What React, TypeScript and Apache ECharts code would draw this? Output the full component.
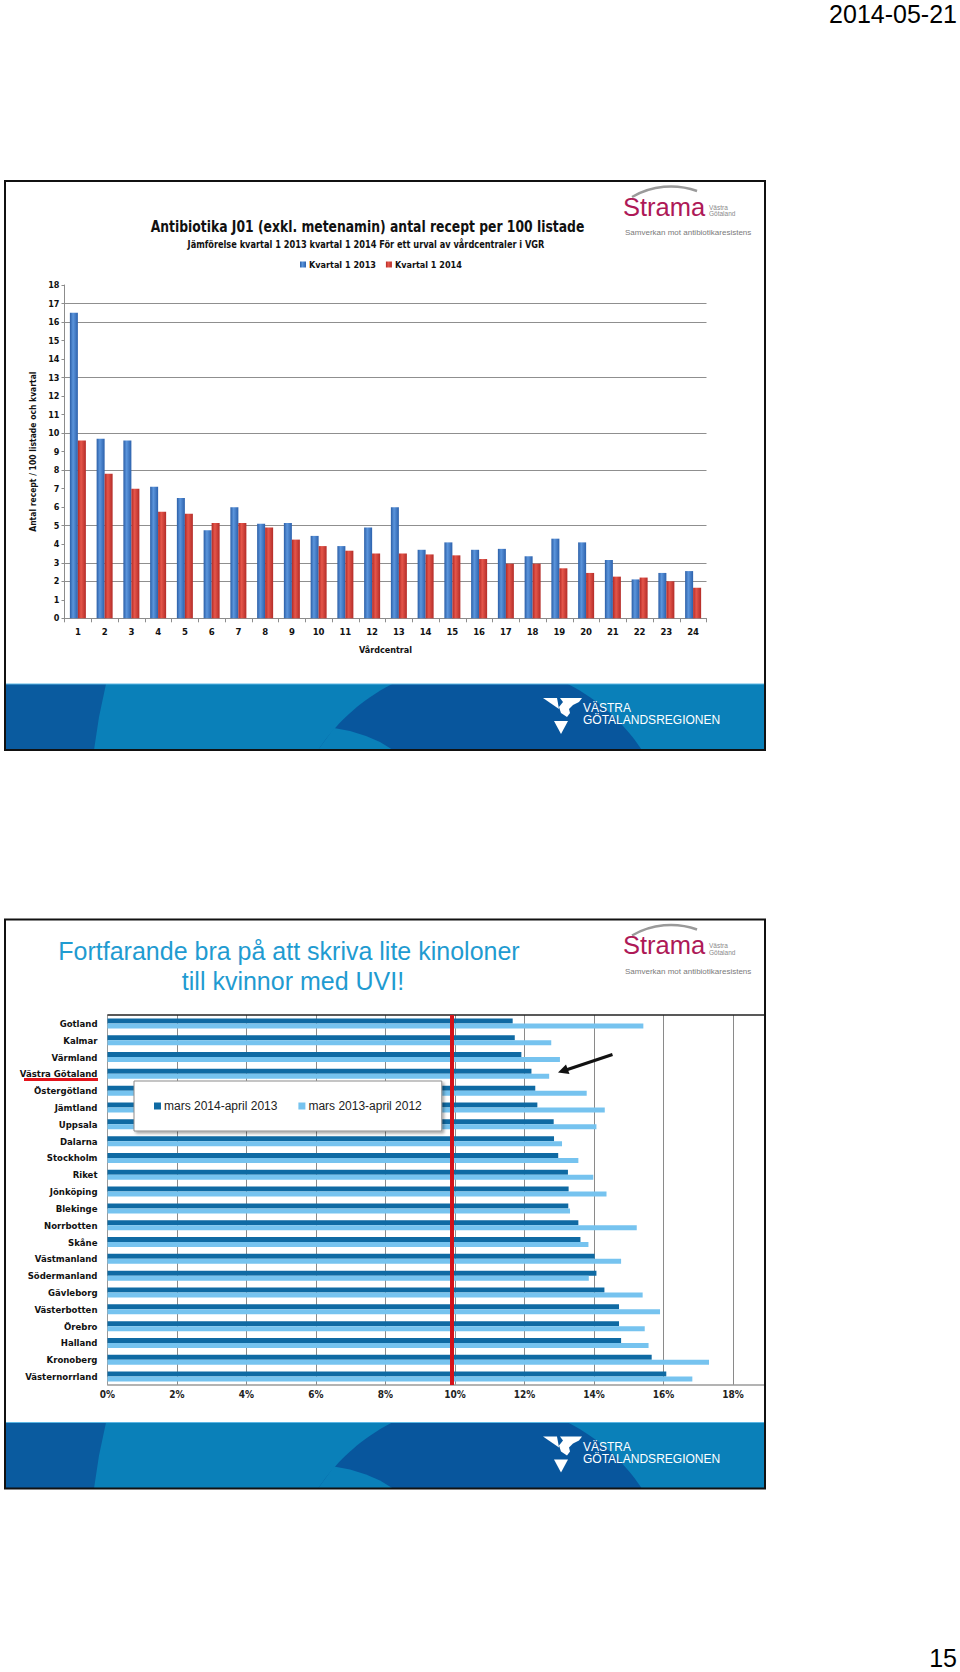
import React, { useEffect, useRef } from "react";
import * as echarts from "echarts";

// ---------- Slide 1 data ----------
const centres = ["1","2","3","4","5","6","7","8","9","10","11","12","13","14","15","16","17","18","19","20","21","22","23","24"];
const kvartal2013 = [16.5, 9.7, 9.6, 7.1, 6.5, 4.75, 6.0, 5.1, 5.15, 4.45, 3.9, 4.9, 6.0, 3.7, 4.1, 3.7, 3.75, 3.35, 4.3, 4.1, 3.15, 2.1, 2.45, 2.55];
const kvartal2014 = [9.6, 7.8, 7.0, 5.75, 5.65, 5.15, 5.15, 4.9, 4.25, 3.9, 3.65, 3.5, 3.5, 3.45, 3.4, 3.2, 2.95, 2.95, 2.7, 2.45, 2.25, 2.2, 2.0, 1.65];
const visibleGridValues = [2, 3, 5, 8, 10, 13, 16, 17];

// ---------- Slide 2 data ----------
const regions = ["Gotland","Kalmar","Värmland","Västra Götaland","Östergötland","Jämtland","Uppsala","Dalarna","Stockholm","Riket","Jönköping","Blekinge","Norrbotten","Skåne","Västmanland","Södermanland","Gävleborg","Västerbotten","Örebro","Halland","Kronoberg","Västernorrland"];
const period2014 = [11.66, 11.72, 11.91, 12.2, 12.31, 12.37, 12.84, 12.85, 12.97, 13.25, 13.27, 13.26, 13.55, 13.61, 14.02, 14.07, 14.3, 14.72, 14.72, 14.78, 15.66, 16.08];
const period2013 = [15.42, 12.77, 13.02, 12.71, 13.79, 14.31, 14.07, 13.08, 13.55, 13.98, 14.36, 13.31, 15.23, 13.84, 14.78, 13.85, 15.4, 15.9, 15.46, 15.57, 17.31, 16.83];
const referenceValue = 9.9;

const NARROW = "'Liberation Sans Narrow', 'DejaVu Sans Condensed', 'Liberation Sans', sans-serif";
const SANS = "'Liberation Sans', Arial, sans-serif";

function circleStrip(cx: number, cy: number, r: number, y0: number, y1: number, n = 20) {
  const left: number[][] = [];
  const right: number[][] = [];
  for (let i = 0; i <= n; i++) {
    const y = y0 + ((y1 - y0) * i) / n;
    const dx = Math.sqrt(Math.max(0, r * r - (y - cy) * (y - cy)));
    left.push([cx - dx, y]);
    right.push([cx + dx, y]);
  }
  return left.concat(right.reverse());
}

function slideDecor(T: number): any[] {
  const els: any[] = [];
  // footer band
  els.push({ type: "rect", shape: { x: 5, y: T + 503, width: 760, height: 66 }, style: { fill: "#0a80b9" }, z: 1 });
  els.push({ type: "polygon", shape: { points: [[5, T + 503], [106, T + 503], [99, T + 536], [94, T + 569], [5, T + 569]] }, style: { fill: "#0a5b9f" }, z: 1 });
  els.push({ type: "polygon", shape: { points: circleStrip(480, T + 676, 194, T + 503, T + 569) }, style: { fill: "#08569d" }, z: 1 });
  els.push({ type: "polygon", shape: { points: [[334, T + 547], [350, T + 550], [366, T + 555], [380, T + 561], [393, T + 569], [318, T + 569]] }, style: { fill: "#0a80b9" }, z: 1 });
  els.push({ type: "line", shape: { x1: 5, y1: T + 503, x2: 765, y2: T + 503 }, style: { stroke: "#5ab6e4", lineWidth: 1 }, z: 1 });
  // VGR logo
  els.push({ type: "polygon", shape: { points: [[543, T + 517], [557, T + 517], [559, T + 528]] }, style: { fill: "#fff" }, z: 2 });
  els.push({ type: "polygon", shape: { points: [[560, T + 517], [582, T + 517], [579, T + 521], [573, T + 524], [569, T + 528], [570, T + 532], [567, T + 536], [561, T + 532], [559, T + 526], [563, T + 521]] }, style: { fill: "#fff" }, z: 2 });
  els.push({ type: "polygon", shape: { points: [[554, T + 540], [568, T + 540], [561, T + 553]] }, style: { fill: "#fff" }, z: 2 });
  els.push({ type: "text", x: 583, y: T + 527, style: { text: "VÄSTRA", fill: "#fff", fontSize: 12, fontFamily: SANS, textAlign: "left", textVerticalAlign: "middle" }, z: 2 });
  els.push({ type: "text", x: 583, y: T + 539, style: { text: "GÖTALANDSREGIONEN", fill: "#fff", fontSize: 12, fontFamily: SANS, textAlign: "left", textVerticalAlign: "middle" }, z: 2 });
  // Strama logo
  els.push({ type: "arc", shape: { cx: 670.95, cy: T + 82.85, r: 77.4, startAngle: -2.098, endAngle: -1.227, clockwise: true }, style: { stroke: "#9a9a9a", lineWidth: 2.5, fill: "none" }, z: 2 });
  els.push({ type: "text", x: 623, y: T + 25.5, style: { text: "Strama", fill: "#ae1957", fontSize: 25.5, fontFamily: SANS, textAlign: "left", textVerticalAlign: "middle" }, z: 2 });
  els.push({ type: "text", x: 709, y: T + 26, style: { text: "Västra", fill: "#8a8a8a", fontSize: 6.5, fontFamily: SANS, textAlign: "left", textVerticalAlign: "middle" }, z: 2 });
  els.push({ type: "text", x: 709, y: T + 32.5, style: { text: "Götaland", fill: "#8a8a8a", fontSize: 6.5, fontFamily: SANS, textAlign: "left", textVerticalAlign: "middle" }, z: 2 });
  els.push({ type: "text", x: 625, y: T + 51.5, style: { text: "Samverkan mot antibiotikaresistens", fill: "#7a7a7a", fontSize: 8, fontFamily: SANS, textAlign: "left", textVerticalAlign: "middle" }, z: 2 });
  // frame
  els.push({ type: "rect", shape: { x: 5, y: T, width: 760, height: 569 }, style: { fill: "none", stroke: "#111", lineWidth: 2 }, z: 50 });
  return els;
}

function buildOption() {
  const blueGrad = new echarts.graphic.LinearGradient(0, 0, 1, 0, [
    { offset: 0, color: "#2b5ea6" },
    { offset: 0.4, color: "#5b95dc" },
    { offset: 1, color: "#2c61ac" },
  ]);
  const redGrad = new echarts.graphic.LinearGradient(0, 0, 1, 0, [
    { offset: 0, color: "#b32a26" },
    { offset: 0.4, color: "#e5564a" },
    { offset: 1, color: "#b42c28" },
  ]);
  const s1Label = { color: "#111", fontWeight: "bold", fontFamily: NARROW };

  const graphics: any[] = [];
  graphics.push(...slideDecor(181));
  graphics.push(...slideDecor(919.5));
  // Slide 1 titles
  graphics.push({ type: "text", x: 367.5, y: 227, scaleX: 0.86, style: { text: "Antibiotika J01 (exkl. metenamin) antal recept per 100 listade", fill: "#111", fontSize: 16, fontWeight: "bold", fontFamily: NARROW, textAlign: "center", textVerticalAlign: "middle" }, z: 3 });
  graphics.push({ type: "text", x: 366, y: 244, scaleX: 0.87, style: { text: "Jämförelse kvartal 1 2013 kvartal 1 2014 För ett urval av vårdcentraler i VGR", fill: "#111", fontSize: 10.5, fontWeight: "bold", fontFamily: NARROW, textAlign: "center", textVerticalAlign: "middle" }, z: 3 });
  // Slide 2 title
  graphics.push({ type: "text", x: 289, y: 951, style: { text: "Fortfarande bra på att skriva lite kinoloner", fill: "#1f9bd1", fontSize: 25, fontFamily: SANS, textAlign: "center", textVerticalAlign: "middle" }, z: 3 });
  graphics.push({ type: "text", x: 293, y: 981, style: { text: "till kvinnor med UVI!", fill: "#1f9bd1", fontSize: 25, fontFamily: SANS, textAlign: "center", textVerticalAlign: "middle" }, z: 3 });
  // Slide 2 plot borders
  graphics.push({ type: "line", shape: { x1: 107.5, y1: 1015, x2: 765, y2: 1015 }, style: { stroke: "#222", lineWidth: 1.5 }, z: 3 });
  graphics.push({ type: "line", shape: { x1: 107.5, y1: 1385, x2: 765, y2: 1385 }, style: { stroke: "#9a9a9a", lineWidth: 1.5 }, z: 3 });
  // underline & arrow
  graphics.push({ type: "line", shape: { x1: 24, y1: 1079.5, x2: 98, y2: 1079.5 }, style: { stroke: "#e4141b", lineWidth: 3 }, z: 3 });
  graphics.push({ type: "line", shape: { x1: 612.5, y1: 1054.5, x2: 566, y2: 1070 }, style: { stroke: "#111", lineWidth: 3 }, z: 30 });
  graphics.push({ type: "polygon", shape: { points: [[558, 1072.5], [569.5, 1074], [566, 1064.5]] }, style: { fill: "#111" }, z: 30 });
  // page date & number
  graphics.push({ type: "text", x: 957, y: 14, style: { text: "2014-05-21", fill: "#000", fontSize: 25, fontFamily: SANS, textAlign: "right", textVerticalAlign: "middle" }, z: 3 });
  graphics.push({ type: "text", x: 957, y: 1657.5, style: { text: "15", fill: "#000", fontSize: 25, fontFamily: SANS, textAlign: "right", textVerticalAlign: "middle" }, z: 3 });

  return {
    animation: false,
    backgroundColor: "#ffffff",
    grid: [
      { left: 64.5, top: 285, width: 642, height: 333.3 },
      { left: 107.5, top: 1015, width: 625.5, height: 370 },
    ],
    legend: [
      {
        data: ["Kvartal 1 2013", "Kvartal 1 2014"],
        left: 300, top: 260, itemWidth: 6, itemHeight: 6, itemGap: 10, icon: "rect", padding: 0,
        textStyle: { fontSize: 9, ...s1Label, padding: [0, 0, 0, -2] },
      },
      {
        data: ["mars 2014-april 2013", "mars 2013-april 2012"],
        left: 134, top: 1081, padding: [19, 20, 19, 20], itemGap: 21, itemWidth: 7, itemHeight: 7, icon: "rect",
        backgroundColor: "#ffffff", borderColor: "#8c8c8c", borderWidth: 1,
        shadowColor: "rgba(0,0,0,0.35)", shadowBlur: 3, shadowOffsetX: 2, shadowOffsetY: 2,
        textStyle: { fontSize: 12, fontFamily: SANS, color: "#222", padding: [0, 0, 0, -2] },
        z: 10,
      },
    ],
    xAxis: [
      {
        gridIndex: 0, type: "category", data: centres, boundaryGap: true,
        axisLine: { lineStyle: { color: "#8c8c8c" } },
        axisTick: { show: true, length: 4, lineStyle: { color: "#8c8c8c" } },
        axisLabel: { ...s1Label, fontSize: 9.5, margin: 8 },
        name: "Vårdcentral", nameLocation: "middle", nameGap: 27,
        nameTextStyle: { ...s1Label, fontSize: 9 },
      },
      {
        gridIndex: 1, type: "value", min: 0, max: 18, interval: 2,
        axisLine: { show: false }, axisTick: { show: false },
        axisLabel: { formatter: "{value}%", color: "#222", fontWeight: "bold", fontSize: 10, fontFamily: NARROW, margin: 4 },
        splitLine: { show: true, lineStyle: { color: "#8a8a8a", width: 1 } },
      },
    ],
    yAxis: [
      {
        gridIndex: 0, type: "value", min: 0, max: 18, interval: 1,
        splitLine: { show: false },
        axisLine: { show: true, lineStyle: { color: "#8c8c8c" } },
        axisTick: { show: true, length: 3, lineStyle: { color: "#8c8c8c" } },
        axisLabel: { ...s1Label, fontSize: 9, margin: 5 },
        name: "Antal recept / 100 listade och kvartal", nameLocation: "middle", nameGap: 24, nameRotate: 90,
        nameTextStyle: { ...s1Label, fontSize: 8.5 },
      },
      {
        gridIndex: 1, type: "category", data: regions, inverse: true,
        axisLine: { show: true, lineStyle: { color: "#9a9a9a" } },
        axisTick: { show: false },
        axisLabel: { color: "#111", fontWeight: "bold", fontSize: 9.5, fontFamily: NARROW, margin: 10 },
        splitLine: { show: false },
      },
    ],
    series: [
      {
        name: "Kvartal 1 2013", type: "bar", xAxisIndex: 0, yAxisIndex: 0, data: kvartal2013,
        barWidth: 8, barGap: "0%", itemStyle: { color: blueGrad }, z: 3,
        markLine: {
          silent: true, symbol: "none", z: 1, label: { show: false },
          lineStyle: { color: "#8f8f8f", width: 1, type: "solid" },
          data: visibleGridValues.map((v) => ({ yAxis: v })),
        },
      },
      {
        name: "Kvartal 1 2014", type: "bar", xAxisIndex: 0, yAxisIndex: 0, data: kvartal2014,
        barWidth: 8, barGap: "0%", itemStyle: { color: redGrad }, z: 3,
      },
      {
        name: "mars 2014-april 2013", type: "bar", xAxisIndex: 1, yAxisIndex: 1, data: period2014,
        barWidth: 5, barGap: "0%", itemStyle: { color: "#0f6aa3" }, z: 3,
      },
      {
        name: "mars 2013-april 2012", type: "bar", xAxisIndex: 1, yAxisIndex: 1, data: period2013,
        barWidth: 5, barGap: "0%", itemStyle: { color: "#76c3ef" }, z: 3,
        markLine: {
          silent: true, symbol: "none", z: 6, label: { show: false },
          lineStyle: { color: "#d4121a", width: 4, type: "solid" },
          data: [{ xAxis: referenceValue }],
        },
      },
    ],
    graphic: graphics,
  };
}

export default function App() {
  const ref = useRef<HTMLDivElement>(null);
  useEffect(() => {
    if (!ref.current) return;
    const chart = echarts.init(ref.current, undefined, { renderer: "svg" });
    chart.setOption(buildOption() as any);
    return () => chart.dispose();
  }, []);
  return (
    <div
      ref={ref}
      style={{ position: "absolute", left: 0, top: 0, width: 960, height: 1672, background: "#fff" }}
    />
  );
}
